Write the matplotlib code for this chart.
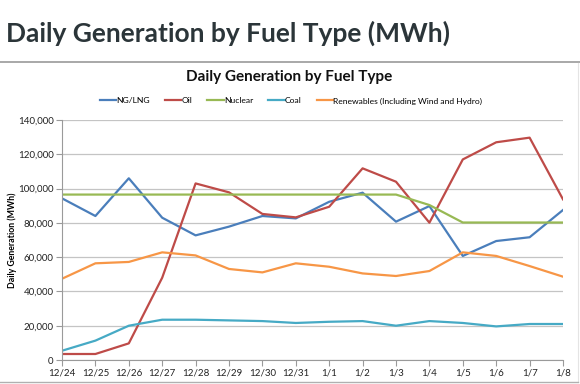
import numpy as np
import matplotlib.pyplot as plt
from matplotlib.lines import Line2D
from matplotlib.ticker import FuncFormatter

plt.rcParams['font.family'] = ['Lato', 'DejaVu Sans']

DATES = ['12/24', '12/25', '12/26', '12/27', '12/28', '12/29', '12/30', '12/31',
         '1/1', '1/2', '1/3', '1/4', '1/5', '1/6', '1/7', '1/8']

ng_lng     = [94300, 84000, 106000, 83000, 72700, 77800, 84000, 82600,
              92300, 97600, 80700, 89800, 60700, 69400, 71600, 87500]
oil        = [3500, 3500, 9700, 48000, 103000, 97800, 85200, 83200,
              89400, 111800, 104000, 80100, 117000, 127000, 129700, 93700]
nuclear    = [96500, 96500, 96500, 96500, 96500, 96500, 96500, 96500,
              96500, 96500, 96500, 90400, 80200, 80200, 80200, 80200]
coal       = [5400, 11300, 20000, 23500, 23500, 23100, 22700, 21600,
              22300, 22700, 20000, 22700, 21600, 19600, 21000, 21000]
renewables = [47400, 56400, 57200, 62800, 61000, 53100, 51100, 56400,
              54400, 50500, 49000, 51900, 62800, 60700, 54800, 48600]

SERIES = [
    ('NG/LNG', ng_lng, '#4a7ebb'),
    ('Oil', oil, '#be4b48'),
    ('Nuclear', nuclear, '#98b954'),
    ('Coal', coal, '#46aac5'),
    ('Renewables (Including Wind and Hydro)', renewables, '#f79646'),
]

W, H = 580, 384
fig = plt.figure(figsize=(W / 100, H / 100), dpi=100)
fig.patch.set_facecolor('white')

# slide title
fig.text(6 / W, 1 - 33 / H, 'Daily Generation by Fuel Type (MWh)',
         fontsize=19, fontweight='bold', color='#2b3539',
         va='center', ha='left')

# separator line + chart frame
fig.add_artist(Line2D([0, 1], [1 - 62 / H, 1 - 62 / H], color='#9a9a9a', lw=1.2))
fig.add_artist(Line2D([578 / W, 578 / W], [1 - 63 / H, 1 - 381 / H], color='#e4e4e4', lw=0.8))
fig.add_artist(Line2D([0, 578 / W], [1 - 381.5 / H, 1 - 381.5 / H], color='#b0b0b0', lw=1.0))

ax = fig.add_axes([62 / W, 1 - 360 / H, (563 - 62) / W, (360 - 120) / H])
x = np.arange(len(DATES))
for name, vals, col in SERIES:
    ax.plot(x, vals, color=col, lw=1.6, label=name, solid_joinstyle='round')

ax.set_xlim(0, len(DATES) - 1)
ax.set_ylim(0, 140000)
ax.set_yticks(np.arange(0, 140001, 20000))
ax.yaxis.set_major_formatter(FuncFormatter(lambda v, p: f'{int(v):,}'))
ax.set_xticks(x)
ax.set_xticklabels(DATES)
ax.grid(axis='y', color='#c4c4c4', lw=0.9)
ax.set_axisbelow(True)
for s in ['top', 'right']:
    ax.spines[s].set_visible(False)
for s in ['left', 'bottom']:
    ax.spines[s].set_color('#9a9a9a')
    ax.spines[s].set_linewidth(0.8)
ax.tick_params(axis='both', labelsize=7, colors='#9a9a9a', labelcolor='#222222',
               length=4, width=0.8, pad=2, direction='out')

ax.set_ylabel('Daily Generation (MWh)', fontsize=6.3, fontweight='bold')
ax.yaxis.set_label_coords((17 - 62) / (563 - 62), 0.5)

fig.text(289 / W, 1 - 77 / H, 'Daily Generation by Fuel Type', fontsize=11,
         fontweight='bold', ha='center', va='center', color='#111111')

handles = [Line2D([], [], color=c, lw=1.6) for _, _, c in SERIES]
fig.legend(handles, [n for n, _, _ in SERIES], loc='center', ncol=5,
           bbox_to_anchor=(291 / W, 1 - 101 / H), frameon=False, fontsize=6.1,
           handlelength=1.9, handletextpad=0.05, columnspacing=1.8)

plt.savefig('out.png', dpi=100)
